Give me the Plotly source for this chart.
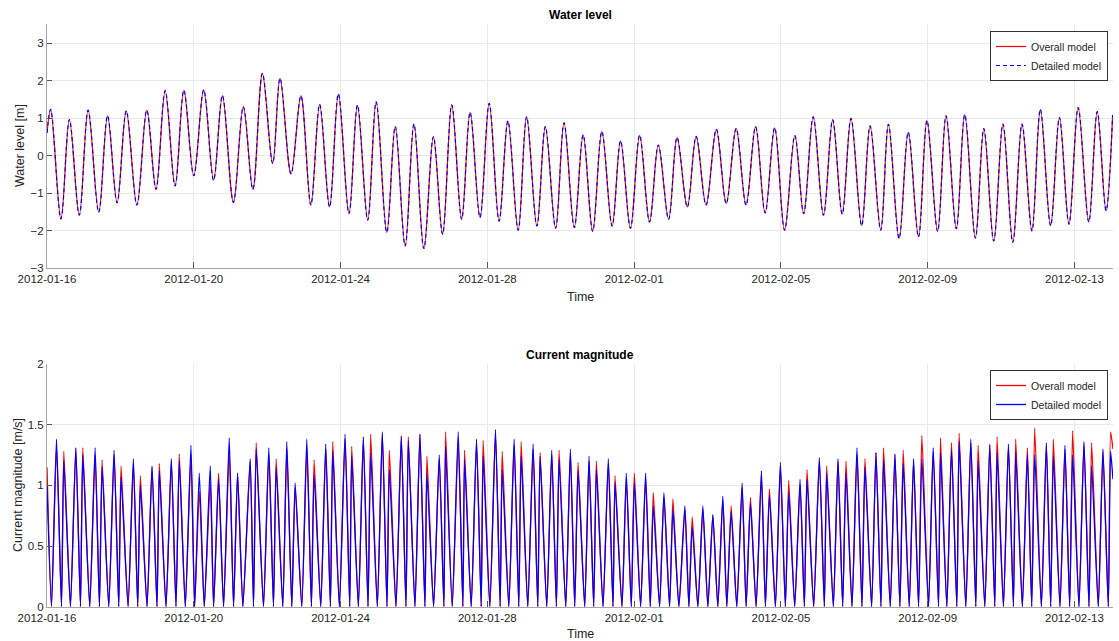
import pandas as pd
import plotly.graph_objects as go

BASE = pd.Timestamp("2012-01-16")

# ---------------- Water level: times (days after 2012-01-16) of highs/lows and levels [m]
wl_days = [0.00, 0.10, 0.38, 0.61, 0.88, 1.12, 1.41, 1.65, 1.91, 2.16, 2.45, 2.72, 2.97, 3.22, 3.49,
           3.73, 4.00, 4.27, 4.54, 4.78, 5.08, 5.35, 5.61, 5.87, 6.15, 6.35, 6.65, 6.92, 7.19, 7.43,
           7.70, 7.94, 8.23, 8.46, 8.74, 8.97, 9.26, 9.49, 9.76, 10.00, 10.27, 10.53, 10.78, 11.03,
           11.30, 11.53, 11.80, 12.05, 12.32, 12.56, 12.84, 13.07, 13.35, 13.58, 13.86, 14.09, 14.37,
           14.61, 14.87, 15.12, 15.40, 15.63, 15.90, 16.15, 16.42, 16.66, 16.94, 17.17, 17.45, 17.69,
           17.96, 18.24, 18.51, 18.78, 19.05, 19.31, 19.57, 19.83, 20.10, 20.38, 20.62, 20.88, 21.16,
           21.41, 21.67, 21.91, 22.20, 22.43, 22.72, 22.93, 23.22, 23.47, 23.75, 23.98, 24.27, 24.50,
           24.78, 25.01, 25.30, 25.53, 25.80, 26.05, 26.32, 26.57, 26.84, 27.07, 27.35, 27.59, 27.85,
           28.10, 28.39, 28.62, 28.86, 29.04]
wl_overall = [0.60, 1.23, -1.69, 0.96, -1.59, 1.21, -1.51, 1.06, -1.26, 1.19, -1.32, 1.21, -0.90, 1.73, -0.81,
              1.74, -0.54, 1.75, -0.66, 1.60, -1.25, 1.30, -0.90, 2.19, -0.21, 2.06, -0.49, 1.59, -1.32, 1.36,
              -1.37, 1.64, -1.55, 1.34, -1.72, 1.43, -2.05, 0.77, -2.41, 0.84, -2.48, 0.50, -2.10, 1.35,
              -1.70, 1.15, -1.65, 1.39, -1.75, 0.92, -1.99, 1.03, -1.88, 0.77, -1.94, 0.87, -1.92,
              0.55, -2.02, 0.64, -1.88, 0.39, -1.94, 0.54, -1.77, 0.28, -1.70, 0.48, -1.37, 0.51,
              -1.32, 0.70, -1.28, 0.72, -1.32, 0.77, -1.53, 0.74, -1.99, 0.53, -1.55, 1.03, -1.59,
              0.95, -1.56, 0.99, -1.87, 0.79, -1.99, 0.83, -2.21, 0.62, -2.17, 0.93, -2.02, 1.06,
              -1.95, 1.09, -2.20, 0.72, -2.28, 0.84, -2.32, 0.84, -2.01, 1.23, -1.87, 1.01, -1.83,
              1.28, -1.77, 1.17, -1.47, 1.08]
# the detailed model lies on top of the overall model at this scale
wl_detailed = [0.60, 1.23, -1.69, 0.96, -1.59, 1.21, -1.51, 1.06, -1.26, 1.19, -1.32, 1.21, -0.90, 1.73, -0.81,
               1.74, -0.54, 1.75, -0.66, 1.60, -1.25, 1.30, -0.90, 2.19, -0.21, 2.06, -0.49, 1.59, -1.32, 1.36,
               -1.37, 1.64, -1.55, 1.34, -1.72, 1.43, -2.05, 0.77, -2.41, 0.84, -2.48, 0.50, -2.10, 1.35,
               -1.70, 1.15, -1.65, 1.39, -1.75, 0.92, -1.99, 1.03, -1.88, 0.77, -1.94, 0.87, -1.92,
               0.55, -2.02, 0.64, -1.88, 0.39, -1.94, 0.54, -1.77, 0.28, -1.70, 0.48, -1.37, 0.51,
               -1.32, 0.70, -1.28, 0.72, -1.32, 0.77, -1.53, 0.74, -1.99, 0.53, -1.55, 1.03, -1.59,
               0.95, -1.56, 0.99, -1.87, 0.79, -1.99, 0.83, -2.21, 0.62, -2.17, 0.93, -2.02, 1.06,
               -1.95, 1.09, -2.20, 0.72, -2.28, 0.84, -2.32, 0.84, -2.01, 1.23, -1.87, 1.01, -1.83,
               1.28, -1.77, 1.17, -1.47, 1.08]

# ---------------- Current magnitude: peak times (days), peak speeds [m/s], slack times
cur_peak_days = [0.00, 0.259, 0.458, 0.785, 0.975, 1.311, 1.501, 1.828, 2.018, 2.354, 2.544, 2.862, 3.061,
                 3.388, 3.605, 3.923, 4.150, 4.449, 4.676, 4.966, 5.193, 5.537, 5.701, 6.045, 6.245, 6.535,
                 6.762, 7.080, 7.279, 7.596, 7.787, 8.122, 8.304, 8.621, 8.821, 9.138, 9.329, 9.655, 9.846,
                 10.163, 10.354, 10.689, 10.862, 11.206, 11.379, 11.705, 11.886, 12.222, 12.404, 12.730,
                 12.921, 13.247, 13.438, 13.755, 13.955, 14.263, 14.472, 14.771, 14.971, 15.297, 15.479,
                 15.787, 16.005, 16.313, 16.522, 16.812, 17.057, 17.383, 17.583, 17.873, 18.145, 18.417,
                 18.644, 18.943, 19.170, 19.469, 19.687, 19.986, 20.213, 20.522, 20.712, 21.048, 21.247,
                 21.556, 21.774, 22.073, 22.290, 22.590, 22.798, 23.107, 23.333, 23.615, 23.841, 24.150,
                 24.349, 24.649, 24.857, 25.175, 25.374, 25.692, 25.891, 26.200, 26.399, 26.717, 26.916,
                 27.234, 27.424, 27.741, 27.950, 28.259, 28.467, 28.776, 28.985, 29.048]
cur_peak_overall = [1.15, 1.32, 1.28, 1.30, 1.31, 1.25, 1.21, 1.25, 1.16, 1.18, 1.08, 1.15, 1.18,
                    1.20, 1.26, 1.25, 0.95, 1.03, 1.10, 1.28, 1.10, 1.20, 1.35, 1.25, 1.22, 1.30,
                    0.98, 1.30, 1.21, 1.30, 1.36, 1.38, 1.32, 1.38, 1.42, 1.42, 1.29, 1.41, 1.40,
                    1.42, 1.24, 1.22, 1.44, 1.35, 1.29, 1.35, 1.37, 1.42, 1.28, 1.33,
                    1.36, 1.30, 1.27, 1.25, 1.29, 1.27, 1.19, 1.20, 1.20, 1.18, 1.08,
                    1.05, 1.10, 1.05, 0.94, 0.90, 0.89, 0.80, 0.74, 0.80, 0.75, 0.88,
                    0.83, 0.98, 0.90, 1.08, 0.97, 1.15, 1.04, 1.00, 1.13, 1.20, 1.16,
                    1.20, 1.20, 1.25, 1.22, 1.27, 1.31, 1.25, 1.29, 1.20, 1.41, 1.28,
                    1.39, 1.35, 1.43, 1.35, 1.33, 1.34, 1.40, 1.32, 1.38, 1.31, 1.47,
                    1.33, 1.38, 1.30, 1.45, 1.34, 1.35, 1.28, 1.44, 1.30]
cur_peak_detailed = [1.00, 1.38, 1.20, 1.31, 1.25, 1.31, 1.15, 1.29, 1.07, 1.22, 1.00, 1.16, 1.12,
                     1.22, 1.20, 1.33, 1.10, 1.16, 1.05, 1.39, 1.10, 1.22, 1.30, 1.31, 1.15, 1.36,
                     1.02, 1.38, 1.09, 1.34, 1.28, 1.42, 1.24, 1.40, 1.27, 1.44, 1.13, 1.40, 1.37,
                     1.42, 1.10, 1.25, 1.32, 1.44, 1.21, 1.38, 1.24, 1.46, 1.13, 1.38,
                     1.24, 1.34, 1.24, 1.29, 1.21, 1.30, 1.12, 1.24, 1.13, 1.22, 1.02,
                     1.10, 1.02, 1.10, 0.83, 0.94, 0.80, 0.83, 0.66, 0.83, 0.76, 0.91,
                     0.78, 1.02, 0.85, 1.12, 0.92, 1.19, 0.94, 1.05, 1.05, 1.23, 1.10,
                     1.22, 1.10, 1.31, 1.15, 1.27, 1.21, 1.26, 1.18, 1.22, 1.22, 1.31,
                     1.27, 1.29, 1.36, 1.38, 1.20, 1.33, 1.27, 1.34, 1.27, 1.25, 1.25,
                     1.35, 1.24, 1.33, 1.25, 1.36, 1.16, 1.30, 1.28, 1.05]
cur_slack_days = [0.122, 0.395, 0.639, 0.912, 1.165, 1.429, 1.683, 1.955, 2.209, 2.472, 2.726, 2.998,
                  3.243, 3.515, 3.769, 4.023, 4.286, 4.540, 4.812, 5.084, 5.338, 5.628, 5.900, 6.172,
                  6.426, 6.671, 6.943, 7.206, 7.460, 7.723, 7.968, 8.250, 8.485, 8.748, 9.002, 9.265,
                  9.510, 9.782, 10.027, 10.299, 10.535, 10.816, 11.043, 11.333, 11.560, 11.832, 12.068,
                  12.349, 12.585, 12.857, 13.102, 13.374, 13.619, 13.882, 14.136, 14.381, 14.653,
                  14.898, 15.152, 15.424, 15.669, 15.923, 16.177, 16.440, 16.694, 16.966, 17.220,
                  17.492, 17.737, 18.009, 18.281, 18.526, 18.798, 19.052, 19.324, 19.578, 19.850,
                  20.122, 20.376, 20.639, 20.893, 21.184, 21.429, 21.683, 21.937, 22.209, 22.472,
                  22.726, 22.980, 23.243, 23.497, 23.751, 24.023, 24.295, 24.522, 24.794, 25.039,
                  25.311, 25.556, 25.828, 26.064, 26.336, 26.580, 26.835, 27.098, 27.352, 27.605,
                  27.869, 28.122, 28.395, 28.649, 28.922]
cur_slack_speed = 0.0

x_ticks_every_days = 4
series_names = ["Overall model", "Detailed model"]


def to_time(days):
    return [BASE + pd.to_timedelta(d, unit="D") for d in days]


def merge_current(peak_vals):
    pts = [(d, v) for d, v in zip(cur_peak_days, peak_vals)]
    pts += [(d, cur_slack_speed) for d in cur_slack_days]
    pts.sort(key=lambda p: p[0])
    return to_time([p[0] for p in pts]), [p[1] for p in pts]


FONT = "Liberation Sans, Arial, sans-serif"
TXT = "#262626"
GRID = "#e9e9e9"
AX = "#a6a6a6"

fig = go.Figure()
wl_t = to_time(wl_days)
fig.add_trace(go.Scatter(x=wl_t, y=wl_overall, mode="lines", name=series_names[0],
                         line=dict(color="#ff0000", width=1.2, shape="spline", smoothing=1.0),
                         xaxis="x", yaxis="y", legend="legend"))
fig.add_trace(go.Scatter(x=wl_t, y=wl_detailed, mode="lines", name=series_names[1],
                         line=dict(color="#0000ff", width=1.2, dash="4px,3px", shape="spline", smoothing=1.0),
                         xaxis="x", yaxis="y", legend="legend"))
ct, cov = merge_current(cur_peak_overall)
ct2, cdet = merge_current(cur_peak_detailed)
fig.add_trace(go.Scatter(x=ct, y=cov, mode="lines", name=series_names[0],
                         line=dict(color="#ff0000", width=1.3, shape="spline", smoothing=0.55),
                         xaxis="x2", yaxis="y2", legend="legend2"))
fig.add_trace(go.Scatter(x=ct2, y=cdet, mode="lines", name=series_names[1],
                         line=dict(color="#0000ff", width=1.3, shape="spline", smoothing=0.55),
                         xaxis="x2", yaxis="y2", legend="legend2"))

W, H = 1119, 641
ML, MR = 47, 6
x_end = BASE + pd.to_timedelta(29.05, unit="D")
xcommon = dict(type="date", range=[BASE, x_end], tickformat="%Y-%m-%d",
               tick0=BASE, dtick=x_ticks_every_days * 86400000, automargin=False,
               showgrid=True, gridcolor=GRID, gridwidth=1,
               showline=True, linecolor=AX, linewidth=1, mirror=False,
               ticks="inside", ticklen=6, tickcolor="#555555",
               tickfont=dict(family=FONT, size=11.5, color=TXT), zeroline=False)
ycommon = dict(showgrid=True, gridcolor=GRID, gridwidth=1, automargin=False,
               showline=True, linecolor=AX, linewidth=1, mirror=False,
               ticks="inside", ticklen=5, tickcolor="#555555",
               tickfont=dict(family=FONT, size=11.5, color=TXT), zeroline=False)


def ypaper(py):
    return 1 - py / H


def xpaper(px):
    return (px - ML) / (W - ML - MR)


fig.update_layout(
    width=W, height=H, paper_bgcolor="white", plot_bgcolor="white",
    margin=dict(l=ML, r=MR, t=0, b=0, autoexpand=False),
    showlegend=True,
    xaxis=dict(domain=[0, 1], anchor="y", **xcommon),
    yaxis=dict(domain=[ypaper(268), ypaper(24.3)], anchor="x", range=[-3, 3.5],
               tickvals=[-3, -2, -1, 0, 1, 2, 3], **ycommon),
    xaxis2=dict(domain=[0, 1], anchor="y2", **xcommon),
    yaxis2=dict(domain=[ypaper(606.7), ypaper(364)], anchor="x2", range=[0, 2],
                tickvals=[0, 0.5, 1, 1.5, 2], ticktext=["0", "0.5", "1", "1.5", "2"], **ycommon),
    legend=dict(x=xpaper(1108), xanchor="right", y=ypaper(31), yanchor="top",
                bgcolor="white", bordercolor="#333333", borderwidth=1,
                font=dict(family=FONT, size=10.5, color=TXT), itemwidth=30,
                tracegroupgap=0),
    legend2=dict(x=xpaper(1108), xanchor="right", y=ypaper(370), yanchor="top",
                 bgcolor="white", bordercolor="#333333", borderwidth=1,
                 font=dict(family=FONT, size=10.5, color=TXT), itemwidth=30,
                 tracegroupgap=0),
)

ann = [
    dict(text="<b>Water level</b>", x=580, y=15, size=12, angle=0, color="#000000"),
    dict(text="<b>Current magnitude</b>", x=580, y=355, size=12, angle=0, color="#000000"),
    dict(text="Time", x=580, y=297, size=12.5, angle=0, color=TXT),
    dict(text="Time", x=580, y=634, size=12.5, angle=0, color=TXT),
    dict(text="Water level [m]", x=20, y=146, size=12.5, angle=-90, color=TXT),
    dict(text="Current magnitude [m/s]", x=18, y=485, size=12.5, angle=-90, color=TXT),
]
for a in ann:
    fig.add_annotation(text=a["text"], xref="paper", yref="paper",
                       x=xpaper(a["x"]), y=ypaper(a["y"]),
                       xanchor="center", yanchor="middle", showarrow=False, textangle=a["angle"],
                       font=dict(family=FONT, size=a["size"], color=a["color"]))

fig.write_html("out.html", config={"displayModeBar": False},
               post_script="document.body.style.margin='0px';document.body.style.overflow='hidden';")
